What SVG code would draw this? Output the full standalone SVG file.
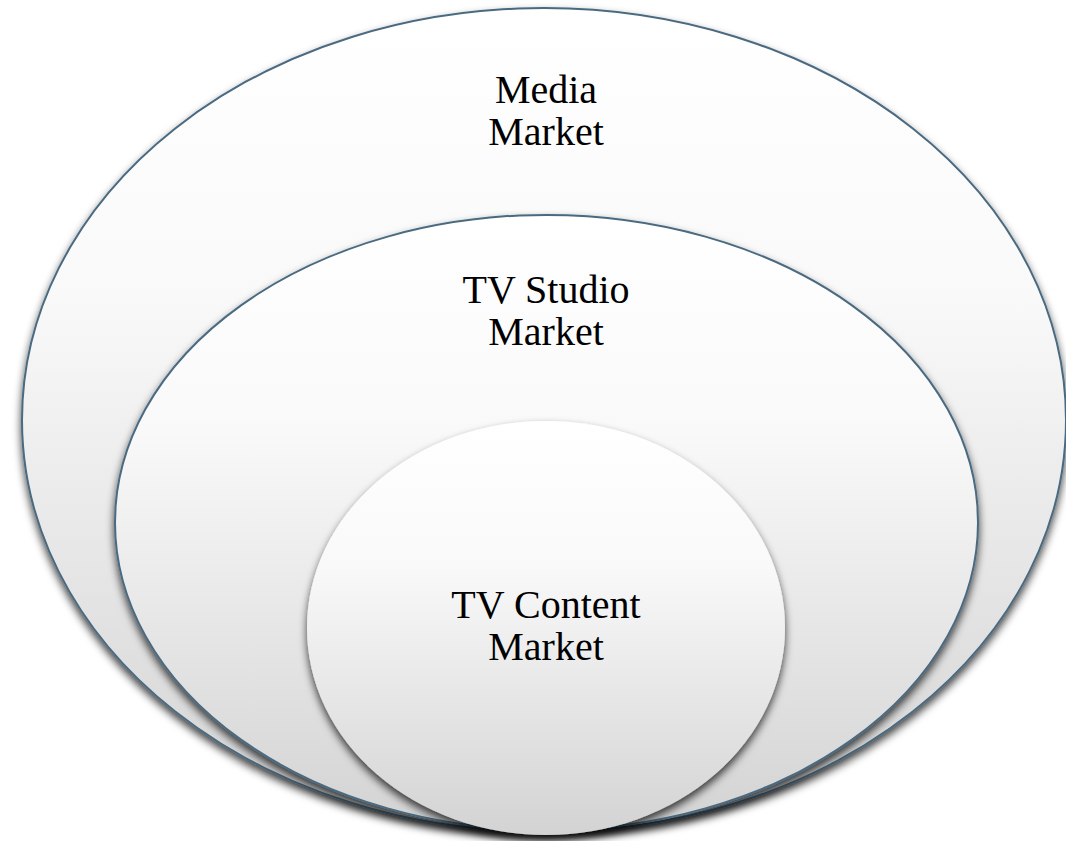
<svg xmlns="http://www.w3.org/2000/svg" width="1066" height="841" viewBox="0 0 1066 841">
  <defs>
    <linearGradient id="fillGrad" x1="0" y1="0" x2="0" y2="1">
      <stop offset="0" stop-color="#ffffff"/>
      <stop offset="0.35" stop-color="#f9f9f9"/>
      <stop offset="1" stop-color="#d3d3d3"/>
    </linearGradient>
    <filter id="shadow" x="-10%" y="-10%" width="120%" height="125%">
      <feDropShadow dx="0" dy="5" stdDeviation="4.5" flood-color="#000" flood-opacity="0.75"/>
    </filter>
  </defs>
  <style>
    .ring { fill: url(#fillGrad); filter: url(#shadow); }
    .edge { stroke: #4a6a80; stroke-width: 2; }
    .label { font-family: "Liberation Serif", "DejaVu Serif", serif; font-size: 40px; fill: #000; text-anchor: middle; }
  </style>
  <rect width="1066" height="841" fill="#ffffff"/>

  <g id="media-market">
    <ellipse class="ring edge" cx="544" cy="420" rx="522" ry="412"/>
    <text class="label" x="546" y="103">Media</text>
    <text class="label" x="546" y="145">Market</text>
  </g>

  <g id="tv-studio-market">
    <ellipse class="ring edge" cx="546.5" cy="522.5" rx="431.5" ry="307.5"/>
    <text class="label" x="546" y="303">TV Studio</text>
    <text class="label" x="546" y="345">Market</text>
  </g>

  <g id="tv-content-market">
    <ellipse class="ring" cx="546" cy="628" rx="239" ry="207"/>
    <text class="label" x="546" y="618">TV Content</text>
    <text class="label" x="546" y="660">Market</text>
  </g>

  <g id="connectors"/>
</svg>
